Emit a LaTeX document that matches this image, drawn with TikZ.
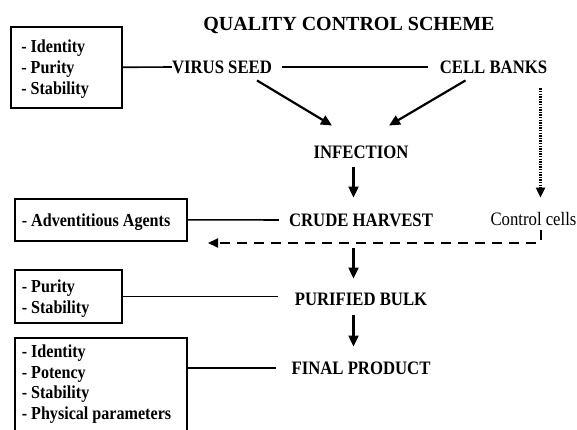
\documentclass[tikz,border=0pt]{standalone}
\usepackage{fontspec}
\setmainfont{Liberation Serif}
\newfontfamily\qcfont{Liberation Serif}[FakeStretch=0.88]
\usetikzlibrary{arrows.meta,calc}

\tikzset{
  qclabel/.style={inner sep=0pt, text height=12.5pt, text depth=0pt,
    font=\qcfont\fontsize{19}{21}\selectfont\bfseries},
  qcbox/.style={draw, line width=1.6pt, anchor=north west, align=flush left,
    inner xsep=7pt, inner ysep=0pt, text height=12.5pt, text depth=0pt,
    font=\qcfont\fontsize{18.3}{21}\selectfont\bfseries},
  qcline/.style={line width=1.6pt},
  qcarrow/.style={line width=2.2pt, -{Triangle[length=11pt,width=10pt]}},
  qcdotted/.style={line width=2.2pt, dash pattern=on 1.4pt off 1.2pt, -{Triangle[length=10pt,width=9pt]}},
  qcdashed/.style={line width=2pt, dash pattern=on 10pt off 7pt, -{Triangle[length=10pt,width=9pt]}}
}

\begin{document}
\begin{tikzpicture}[x=1pt, y=-1pt]
\useasboundingbox (0,0) rectangle (577,430);
\clip (0,0) rectangle (577,430);
\fill[white] (0,0) rectangle (577,430);

% heading
\node[inner sep=0pt, text height=13pt, text depth=0pt, font=\bfseries\fontsize{20}{24}\selectfont] (title) at (349,24) {QUALITY CONTROL SCHEME};

% stages
\node[qclabel] (virus) at (222,67) {VIRUS SEED};
\node[qclabel] (cells) at (493.5,67) {CELL BANKS};
\node[qclabel] (infect) at (361,152) {INFECTION};
\node[qclabel] (crude) at (361,220) {CRUDE HARVEST};
\node[qclabel, font=\qcfont\fontsize{19}{21}\selectfont] (ctrl) at (533.5,219) {Control cells};
\node[qclabel] (bulk) at (361,299) {PURIFIED BULK};
\node[qclabel] (final) at (361,368) {FINAL PRODUCT};

% tests
\node[qcbox, inner xsep=10.5pt, text width=90pt, text depth=42pt, minimum height=81pt] (seedbox) at (10,26) {- Identity\\- Purity\\- Stability};
\node[qcbox, text width=158pt, minimum height=42pt] (advbox) at (14,198) {- Adventitious Agents};
\node[qcbox, text width=93pt, text depth=21pt, minimum height=53pt] (purbox) at (14,269) {- Purity\\- Stability};
\node[qcbox, text width=158pt, inner ysep=7.5pt, text depth=101pt, font=\qcfont\fontsize{18.3}{20.5}\selectfont\bfseries] (finbox) at (14,337) {- Identity\\- Potency\\- Stability\\- Physical parameters};

% links
\draw[qcline] (seedbox.east) -- (virus.west);
\draw[qcline, shorten <=10pt, shorten >=12pt] (virus.east) -- (cells.west);
\draw[qcline, shorten >=10pt] (advbox.east) -- (crude.west);
\draw[qcline, shorten >=17pt] (purbox.east) -- (purbox.east -| bulk.west);
\draw[qcline, shorten >=15pt] (final.west -| finbox.east) -- (final.west);

% flow
\draw[qcarrow] ($(virus.south)+(35,7)$) -- ($(infect.north)+(-29,-20)$);
\draw[qcarrow] ($(cells.south)+(-28,7)$) -- ($(infect.north)+(28,-20)$);
\draw[qcarrow] ($(infect.south)+(-7.5,9)$) -- ($(crude.north)+(-7.5,-16)$);
\draw[qcarrow] ($(crude.south)+(-7.5,22)$) -- ($(bulk.north)+(-7.5,-14)$);
\draw[qcarrow] ($(bulk.south)+(-7.5,10)$) -- ($(final.north)+(-7.5,-15)$);
\draw[qcdotted] ($(cells.south)+(47,15)$) -- ($(ctrl.north)+(7,-15)$);
\coordinate (dashend) at (208,243);
\draw[qcdashed] ($(ctrl.south)+(7,5)$) |- (dashend);
\end{tikzpicture}
\end{document}
